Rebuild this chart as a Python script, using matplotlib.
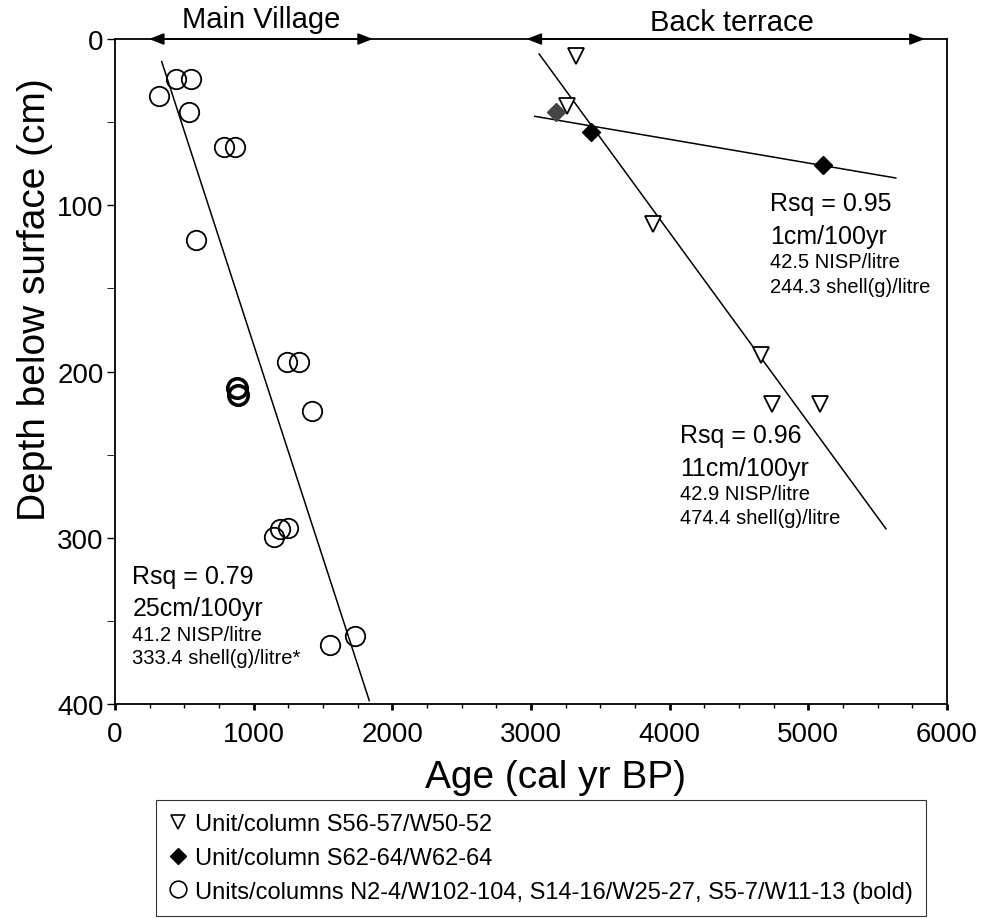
import matplotlib
matplotlib.use("Agg")
import matplotlib.pyplot as plt
from matplotlib.lines import Line2D
from matplotlib.ticker import MultipleLocator

plt.rcParams['font.family'] = ['Liberation Sans', 'DejaVu Sans']

# Main Village (open circles)
circle_age = [319, 440, 546, 536, 786, 865, 584, 1238, 1327, 1420, 1149, 1190, 1245, 1550, 1730]
circle_depth = [34.5, 24, 24, 43.7, 64.8, 64.8, 120.7, 194.5, 194.5, 223.6, 299.7, 294.7, 294, 364.3, 359]
# S5-7/W11-13 (bold circles)
bold_age = [877, 889]
bold_depth = [210, 214]

# Back terrace
triangle_age = [3324, 3257, 3880, 4660, 4739, 5083]
triangle_depth = [10.4, 40.1, 111, 190.3, 219.5, 219.5]
diamond_age = [3179, 3430, 5106]
diamond_depth = [44, 55.7, 75.6]

# regression lines (end points)
mv_fit_age = [337, 1834]
mv_fit_depth = [13.6, 398]
tri_fit_age = [3059, 5560]
tri_fit_depth = [9, 294.6]
dia_fit_age = [3028, 5631]
dia_fit_depth = [46.5, 83.6]

fig = plt.figure(figsize=(9.81, 9.2), dpi=100)
ax = fig.add_axes([0.1172, 0.2337, 0.8481, 0.7228])

ax.plot(mv_fit_age, mv_fit_depth, color='black', lw=1.1)
ax.plot(tri_fit_age, tri_fit_depth, color='black', lw=1.1)
ax.plot(dia_fit_age, dia_fit_depth, color='black', lw=1.1)

ax.plot(circle_age, circle_depth, 'o', ms=14, mfc='none', mec='black', mew=1.3, ls='none')
ax.plot(bold_age, bold_depth, 'o', ms=14, mfc='none', mec='black', mew=2.6, ls='none')
ax.plot(triangle_age, triangle_depth, 'v', ms=11, mfc='white', mec='black', mew=1.3, ls='none')
ax.plot(diamond_age[:1], diamond_depth[:1], 'D', ms=9, mfc='#444444', mec='#444444', ls='none')
ax.plot(diamond_age[1:], diamond_depth[1:], 'D', ms=9, mfc='black', mec='black', ls='none')

ax.set_xlim(0, 6000)
ax.set_ylim(400, 0)
ax.xaxis.set_major_locator(MultipleLocator(1000))
ax.xaxis.set_minor_locator(MultipleLocator(250))
ax.yaxis.set_major_locator(MultipleLocator(100))
ax.yaxis.set_minor_locator(MultipleLocator(50))
ax.tick_params(axis='both', labelsize=20, width=1, color='black')
ax.tick_params(axis='y', which='both', direction='out', length=6, pad=2)
ax.tick_params(axis='x', which='major', direction='out', length=4, width=2, pad=8)
ax.tick_params(axis='x', which='minor', direction='out', length=3, width=1)
for s in ax.spines.values():
    s.set_linewidth(1.3)

ax.set_xlabel('Age (cal yr BP)', fontsize=28)
ax.xaxis.set_label_coords(0.529, -0.083)
ax.set_ylabel('Depth below surface (cm)', fontsize=28)
ax.yaxis.set_label_coords(-0.075, 0.61)

# zone arrows along the top
arrow = dict(arrowstyle='<|-|>,head_length=0.9,head_width=0.35', color='black', lw=1.2,
             shrinkA=0, shrinkB=0)
ax.annotate('', xy=(245, 0), xytext=(1860, 0), arrowprops=arrow, annotation_clip=False)
ax.annotate('', xy=(2968, 0), xytext=(5840, 0), arrowprops=arrow, annotation_clip=False)
ax.text(1058, -12, 'Main Village', ha='center', va='center', fontsize=21, clip_on=False)
ax.text(4446, -10, 'Back terrace', ha='center', va='center', fontsize=21, clip_on=False)

# fit statistics
ax.text(125, 323, 'Rsq = 0.79', fontsize=18, va='center')
ax.text(125, 342, '25cm/100yr', fontsize=18, va='center')
ax.text(125, 358, '41.2 NISP/litre', fontsize=14.5, va='center')
ax.text(125, 372, '333.4 shell(g)/litre*', fontsize=14.5, va='center')

ax.text(4722, 98.6, 'Rsq = 0.95', fontsize=18, va='center')
ax.text(4722, 118.5, '1cm/100yr', fontsize=18, va='center')
ax.text(4722, 134, '42.5 NISP/litre', fontsize=14.5, va='center')
ax.text(4722, 148.6, '244.3 shell(g)/litre', fontsize=14.5, va='center')

ax.text(4073, 238, 'Rsq = 0.96', fontsize=18, va='center')
ax.text(4073, 258, '11cm/100yr', fontsize=18, va='center')
ax.text(4073, 273.5, '42.9 NISP/litre', fontsize=14.5, va='center')
ax.text(4073, 288, '474.4 shell(g)/litre', fontsize=14.5, va='center')

handles = [
    Line2D([], [], marker='v', ls='none', ms=10, mfc='white', mec='black', mew=1.2),
    Line2D([], [], marker='D', ls='none', ms=8, mfc='black', mec='black'),
    Line2D([], [], marker='o', ls='none', ms=12, mfc='none', mec='black', mew=1.2),
]
labels = ['Unit/column S56-57/W50-52',
          'Unit/column S62-64/W62-64',
          'Units/columns N2-4/W102-104, S14-16/W25-27, S5-7/W11-13 (bold)']
leg = fig.legend(handles, labels, loc='upper left', bbox_to_anchor=(156 / 981, 1 - 801 / 920),
                 fontsize=17, frameon=True, fancybox=False, edgecolor='black',
                 handlelength=0.8, handletextpad=0.3, borderpad=0.55, labelspacing=0.5,
                 borderaxespad=0)
leg.get_frame().set_linewidth(0.8)

fig.savefig('out.png', dpi=100)
